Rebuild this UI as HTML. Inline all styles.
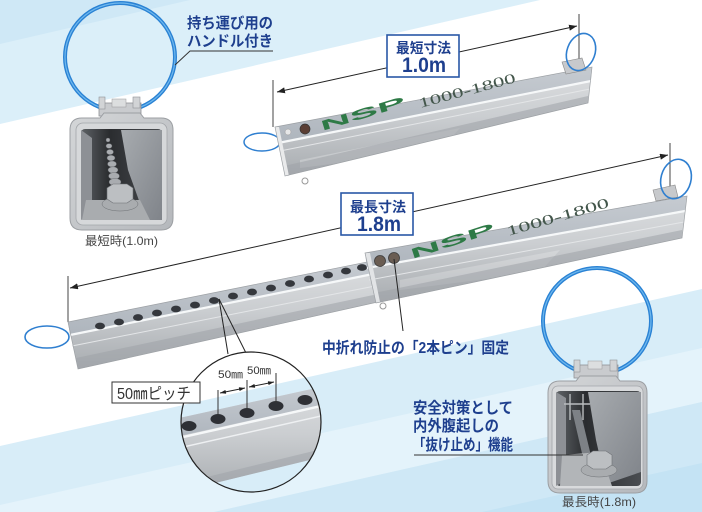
<!DOCTYPE html>
<html><head><meta charset="utf-8"><style>
html,body{margin:0;padding:0;background:#fff;width:702px;height:512px;overflow:hidden;}
svg{display:block;}
.jp{font-family:"Liberation Sans","Noto Sans CJK JP",sans-serif;}
.nv{fill:#1e3f8e;font-weight:bold;}
</style></head><body>
<svg width="702" height="512" viewBox="0 0 702 512" xmlns="http://www.w3.org/2000/svg">
<defs>
 <linearGradient id="face" x1="0" y1="0" x2="0" y2="1">
  <stop offset="0" stop-color="#dcdee0"/>
  <stop offset="0.45" stop-color="#cbced1"/>
  <stop offset="1" stop-color="#a8acb0"/>
 </linearGradient>
 <linearGradient id="topg" x1="0" y1="0" x2="0" y2="1">
  <stop offset="0" stop-color="#c6cbd1"/>
  <stop offset="1" stop-color="#aeb5bd"/>
 </linearGradient>
 <linearGradient id="cav" x1="0" y1="0" x2="1" y2="0">
  <stop offset="0" stop-color="#5e6266"/>
  <stop offset="0.35" stop-color="#2a2c2f"/>
  <stop offset="1" stop-color="#4a4d51"/>
 </linearGradient>
 <linearGradient id="plane" x1="0" y1="0" x2="1" y2="1">
  <stop offset="0" stop-color="#a7abaf"/>
  <stop offset="1" stop-color="#80848a"/>
 </linearGradient>
 <linearGradient id="cap" x1="0" y1="0" x2="1" y2="1">
  <stop offset="0" stop-color="#d4d6d8"/>
  <stop offset="1" stop-color="#b5b8bc"/>
 </linearGradient>
 <clipPath id="mag"><circle cx="251" cy="422" r="70"/></clipPath>
 <marker id="ah" viewBox="0 0 8 6" refX="8" refY="3" markerWidth="8" markerHeight="6" markerUnits="userSpaceOnUse" orient="auto-start-reverse">
  <path d="M0,0 L8,3 L0,6 z" fill="#222"/>
 </marker>
 <marker id="sh" viewBox="0 0 6 4" refX="6" refY="2" markerWidth="6" markerHeight="4" markerUnits="userSpaceOnUse" orient="auto-start-reverse">
  <path d="M0,0 L6,2 L0,4 z" fill="#222"/>
 </marker>
</defs>

<!-- background bands -->
<rect width="702" height="512" fill="#ffffff"/>
<polygon points="0,0 540,0 0,124" fill="#dbeff9"/>
<polygon points="0,0 190,0 0,44" fill="#cfe8f6"/>
<polygon points="0,446 702,289 702,512 0,512" fill="#d8edf8"/>
<polygon points="0,505 702,348 702,402 214,512 0,512" fill="#e4f3fb"/>
<polygon points="214,512 702,402 702,512" fill="#cfe8f6"/>
<polygon points="482,512 702,463 702,512" fill="#c4e3f4"/>

<!-- ===== Top-left end cap (1.0m) ===== -->
<ellipse cx="120" cy="57" rx="55" ry="54" fill="none" stroke="#2a82d4" stroke-width="4"/>
<ellipse cx="120" cy="57" rx="55" ry="54" fill="none" stroke="#6fb8ee" stroke-width="1.2"/>
<path d="M175,65 L190,51 L273,51" fill="none" stroke="#333" stroke-width="1"/>
<rect x="99" y="103" width="42" height="13" fill="#c9cbce" stroke="#8f9296" stroke-width="0.8"/>
<rect x="99" y="97" width="6" height="12" fill="#d2d4d6" stroke="#8f9296" stroke-width="0.6"/>
<rect x="133" y="97" width="7" height="11" fill="#d2d4d6" stroke="#8f9296" stroke-width="0.6"/>
<rect x="112" y="99" width="14" height="8" fill="#dcdedf" stroke="#999" stroke-width="0.5"/>
<path d="M82,118 L100,118 L104,113 L140,113 L144,118 L161,118 Q173,118 173,130 L173,218 Q173,230 161,230 L82,230 Q70,230 70,218 L70,130 Q70,118 82,118 Z" fill="url(#cap)" stroke="#9c9fa3" stroke-width="1"/>
<rect x="76" y="123" width="91" height="102" rx="7" fill="#d6d8da" stroke="#a3a6aa" stroke-width="0.8"/>
<rect x="81" y="129" width="81" height="91" rx="4" fill="url(#cav)"/>
<polygon points="81,130 92,138 92,214 81,220" fill="#8d9095"/>
<polygon points="121,130 162,130 162,220 146,220 128,170" fill="url(#plane)"/>
<polygon points="86,200 140,200 150,220 82,220" fill="#a9acaf"/>
<g fill="#a9acb0" stroke="#5e6165" stroke-width="0.4">
<ellipse cx="108" cy="140" rx="2" ry="2"/><ellipse cx="109" cy="146" rx="3" ry="2.4"/>
<ellipse cx="110" cy="152" rx="3.5" ry="2.6"/><ellipse cx="111" cy="158" rx="4" ry="2.8"/>
<ellipse cx="112" cy="164" rx="4.5" ry="3"/><ellipse cx="113" cy="170" rx="5" ry="3.2"/>
<ellipse cx="114" cy="176" rx="5.5" ry="3.4"/><ellipse cx="115" cy="182" rx="6" ry="3.6"/>
</g>
<ellipse cx="120" cy="204" rx="18" ry="7" fill="#a9acaf" stroke="#6d7074" stroke-width="0.5"/>
<polygon points="107,188 113,184 127,184 133,188 133,199 127,203 113,203 107,199" fill="#bcbfc2" stroke="#6d7074" stroke-width="0.6"/>
<text class="jp" x="85" y="245" font-size="12" fill="#444" textLength="73" lengthAdjust="spacingAndGlyphs">最短時(1.0m)</text>
<text class="jp nv" x="187" y="28" font-size="15" textLength="86" lengthAdjust="spacingAndGlyphs">持ち運び用の</text>
<text class="jp nv" x="187" y="46" font-size="15" textLength="86" lengthAdjust="spacingAndGlyphs">ハンドル付き</text>

<!-- ===== Short bar (1.0m) ===== -->
<line x1="273" y1="80" x2="273" y2="127" stroke="#444" stroke-width="1"/>
<line x1="579" y1="14" x2="579" y2="60" stroke="#444" stroke-width="1"/>
<line x1="277" y1="92" x2="577" y2="26" stroke="#222" stroke-width="1" marker-start="url(#ah)" marker-end="url(#ah)"/>
<rect x="387" y="35" width="72" height="42" fill="#fff" stroke="#2a58a6" stroke-width="1.6"/>
<text class="jp nv" x="396" y="53" font-size="14" textLength="55" lengthAdjust="spacingAndGlyphs">最短寸法</text>
<text class="jp nv" x="402" y="72" font-size="21" textLength="44" lengthAdjust="spacingAndGlyphs">1.0m</text>

<ellipse cx="262" cy="142" rx="18" ry="9" fill="none" stroke="#2f7fd0" stroke-width="1.5"/>
<polygon points="275,127 592,67 588,103 285,176" fill="url(#face)"/>
<polygon points="275,127 592,67 591,80 278,143" fill="url(#topg)"/>
<line x1="278" y1="143" x2="591" y2="81" stroke="#f6f8f9" stroke-width="2.2"/>
<line x1="280" y1="151" x2="590" y2="89" stroke="#e4e6e8" stroke-width="1"/>
<polygon points="300,160 460,128 440,150 300,168" fill="#ffffff" opacity="0.25"/>
<polygon points="284,166 588,96 588,103 285,176" fill="#9ea2a7" opacity="0.55"/>
<polygon points="275,127 279,127 289,176 285,176" fill="#e9eaeb"/>
<polygon points="275,127 592,67 588,103 285,176" fill="none" stroke="#9da1a5" stroke-width="0.7"/>
<circle cx="288" cy="132" r="3" fill="#e6e7e8" stroke="#999" stroke-width="0.5"/>
<circle cx="305" cy="129" r="5" fill="#5a3e34" stroke="#333" stroke-width="0.7"/>
<circle cx="305" cy="181" r="3" fill="none" stroke="#999" stroke-width="1"/>
<text x="0" y="0" transform="translate(322,131) rotate(-17)" font-family="Liberation Sans, sans-serif" font-weight="bold" font-size="14" fill="#2e7a46" textLength="88" lengthAdjust="spacingAndGlyphs">NSP</text>
<text x="0" y="0" transform="translate(420,108) rotate(-15)" font-family="Liberation Serif, serif" font-size="14" fill="#43564b" textLength="100" lengthAdjust="spacingAndGlyphs">1000-1800</text>
<polygon points="562,62 582,58 586,70 566,74" fill="#c7c9cc" stroke="#888" stroke-width="0.6"/>
<ellipse cx="581" cy="52" rx="14" ry="19" transform="rotate(20 581 52)" fill="none" stroke="#2f7fd0" stroke-width="1.6"/>

<!-- ===== Long bar (1.8m) ===== -->
<line x1="68" y1="276" x2="68" y2="322" stroke="#444" stroke-width="1"/>
<line x1="670" y1="143" x2="670" y2="187" stroke="#444" stroke-width="1"/>
<line x1="70" y1="288" x2="668" y2="155" stroke="#222" stroke-width="1" marker-start="url(#ah)" marker-end="url(#ah)"/>
<rect x="341" y="193" width="72" height="42" fill="#fff" stroke="#2a58a6" stroke-width="1.6"/>
<text class="jp nv" x="350" y="212" font-size="14" textLength="56" lengthAdjust="spacingAndGlyphs">最長寸法</text>
<text class="jp nv" x="357" y="231" font-size="21" textLength="44" lengthAdjust="spacingAndGlyphs">1.8m</text>

<ellipse cx="47" cy="337" rx="22" ry="11" fill="none" stroke="#2f7fd0" stroke-width="1.6"/>
<!-- inner tube -->
<polygon points="68,322 372,261 378,302 78,369" fill="url(#face)"/>
<polygon points="68,322 372,261 373,274 70,335" fill="url(#topg)"/>
<line x1="70" y1="335" x2="373" y2="274" stroke="#f6f8f9" stroke-width="2.2"/>
<line x1="72" y1="346" x2="375" y2="286" stroke="#e4e6e8" stroke-width="1"/>
<polygon points="76,358 378,294 378,302 78,369" fill="#9ea2a7" opacity="0.55"/>
<polygon points="68,322 372,261 378,302 78,369" fill="none" stroke="#9da1a5" stroke-width="0.7"/>
<g fill="#35383d">
<ellipse cx="100" cy="326" rx="5" ry="3.4"/><ellipse cx="119" cy="322" rx="5" ry="3.4"/>
<ellipse cx="138" cy="317.5" rx="5" ry="3.4"/><ellipse cx="157" cy="313" rx="5" ry="3.4"/>
<ellipse cx="176" cy="309" rx="5" ry="3.4"/><ellipse cx="195" cy="305" rx="5" ry="3.4"/>
<ellipse cx="214" cy="300.5" rx="5" ry="3.4"/><ellipse cx="233" cy="296" rx="5" ry="3.4"/>
<ellipse cx="252" cy="292" rx="5" ry="3.4"/><ellipse cx="271" cy="288" rx="5" ry="3.4"/>
<ellipse cx="290" cy="283.5" rx="5" ry="3.4"/><ellipse cx="309" cy="279" rx="5" ry="3.4"/>
<ellipse cx="328" cy="275" rx="5" ry="3.4"/><ellipse cx="346" cy="271" rx="5" ry="3.4"/>
<ellipse cx="362" cy="267.5" rx="5" ry="3.4"/>
</g>
<!-- outer tube -->
<polygon points="365,253 687,196 682,238 376,303" fill="url(#face)"/>
<polygon points="365,253 687,196 685,210 367,268" fill="url(#topg)"/>
<line x1="367" y1="268" x2="685" y2="211" stroke="#f6f8f9" stroke-width="2.2"/>
<line x1="369" y1="280" x2="684" y2="222" stroke="#e4e6e8" stroke-width="1"/>
<polygon points="400,280 560,250 540,272 400,290" fill="#ffffff" opacity="0.22"/>
<polygon points="374,293 682,230 682,238 376,303" fill="#9ea2a7" opacity="0.55"/>
<polygon points="365,253 370,253 380,302 376,303" fill="#e2e4e6"/>
<polygon points="365,253 687,196 682,238 376,303" fill="none" stroke="#9da1a5" stroke-width="0.7"/>
<circle cx="380" cy="261" r="5.5" fill="#6a5d53" stroke="#3c3c3c" stroke-width="0.8"/>
<circle cx="394" cy="258" r="5.5" fill="#6a5d53" stroke="#3c3c3c" stroke-width="0.8"/>
<circle cx="383" cy="306" r="3" fill="none" stroke="#999" stroke-width="1"/>
<text x="0" y="0" transform="translate(412,259) rotate(-18)" font-family="Liberation Sans, sans-serif" font-weight="bold" font-size="14" fill="#2e7a46" textLength="88" lengthAdjust="spacingAndGlyphs">NSP</text>
<text x="0" y="0" transform="translate(508,236) rotate(-16)" font-family="Liberation Serif, serif" font-size="14" fill="#43564b" textLength="106" lengthAdjust="spacingAndGlyphs">1000-1800</text>
<polygon points="653,190 675,185 678,197 656,201" fill="#c7c9cc" stroke="#888" stroke-width="0.6"/>
<ellipse cx="676" cy="179" rx="15" ry="20" transform="rotate(15 676 179)" fill="none" stroke="#2f7fd0" stroke-width="1.6"/>

<!-- pin callout -->
<line x1="394" y1="259" x2="403" y2="331" stroke="#222" stroke-width="1"/>
<text class="jp nv" x="322" y="353" font-size="15.5" textLength="187" lengthAdjust="spacingAndGlyphs">中折れ防止の「2本ピン」固定</text>

<!-- ===== Magnifier ===== -->
<line x1="219" y1="299" x2="228" y2="354" stroke="#222" stroke-width="1"/>
<line x1="219" y1="299" x2="246" y2="353" stroke="#222" stroke-width="1"/>
<g clip-path="url(#mag)">
 <rect x="178" y="348" width="148" height="146" fill="#fff"/>
 <polygon points="170,408 330,372 330,494 170,494" fill="#d8edf8"/>
 <polygon points="170,420 330,385 330,455 170,494" fill="url(#face)"/>
 <polygon points="170,420 330,385 330,403 170,438" fill="url(#topg)"/>
 <line x1="170" y1="440" x2="330" y2="404" stroke="#f6f8f9" stroke-width="2.5"/>
 <line x1="170" y1="450" x2="330" y2="414" stroke="#eef0f2" stroke-width="1.5"/>
 <polygon points="170,486 330,447 330,455 170,494" fill="#9ea2a7" opacity="0.5"/>
 <g fill="#2e3035">
  <ellipse cx="189" cy="426" rx="7.5" ry="5"/><ellipse cx="218" cy="419" rx="7.5" ry="5"/>
  <ellipse cx="247" cy="413" rx="7.5" ry="5"/><ellipse cx="276" cy="406" rx="7.5" ry="5"/>
  <ellipse cx="305" cy="400" rx="7.5" ry="5"/>
 </g>
</g>
<circle cx="251" cy="422" r="70" fill="none" stroke="#222" stroke-width="1.2"/>
<line x1="218" y1="390" x2="218" y2="416" stroke="#333" stroke-width="1"/>
<line x1="247" y1="380" x2="247" y2="410" stroke="#333" stroke-width="1"/>
<line x1="276" y1="373" x2="276" y2="403" stroke="#333" stroke-width="1"/>
<line x1="220" y1="393" x2="245" y2="388" stroke="#222" stroke-width="0.9" marker-start="url(#sh)" marker-end="url(#sh)"/>
<line x1="249" y1="387" x2="274" y2="382" stroke="#222" stroke-width="0.9" marker-start="url(#sh)" marker-end="url(#sh)"/>
<text class="jp" x="218" y="378" font-size="11" fill="#333" textLength="25" lengthAdjust="spacingAndGlyphs">50㎜</text>
<text class="jp" x="247" y="374" font-size="11" fill="#333" textLength="24" lengthAdjust="spacingAndGlyphs">50㎜</text>
<rect x="112" y="382" width="88" height="21" fill="#fff" stroke="#333" stroke-width="1"/>
<text class="jp" x="117" y="399" font-size="16" fill="#333" textLength="74" lengthAdjust="spacingAndGlyphs">50㎜ピッチ</text>

<!-- ===== Bottom-right end cap (1.8m) ===== -->
<ellipse cx="597" cy="321" rx="54" ry="53" fill="none" stroke="#2a82d4" stroke-width="4"/>
<ellipse cx="597" cy="321" rx="54" ry="53" fill="none" stroke="#6fb8ee" stroke-width="1.2"/>
<rect x="574" y="365" width="44" height="13" fill="#c9cbce" stroke="#8f9296" stroke-width="0.8"/>
<rect x="574" y="360" width="6" height="12" fill="#d2d4d6" stroke="#8f9296" stroke-width="0.6"/>
<rect x="610" y="360" width="7" height="11" fill="#d2d4d6" stroke="#8f9296" stroke-width="0.6"/>
<rect x="588" y="361" width="14" height="8" fill="#dcdedf" stroke="#999" stroke-width="0.5"/>
<path d="M560,381 L576,381 L580,376 L616,376 L620,381 L636,381 Q647,381 647,393 L647,481 Q647,493 635,493 L560,493 Q548,493 548,481 L548,393 Q548,381 560,381 Z" fill="url(#cap)" stroke="#9c9fa3" stroke-width="1"/>
<rect x="552" y="386" width="91" height="103" rx="6" fill="#d8dadc" stroke="#a3a6aa" stroke-width="0.8"/>
<rect x="556" y="391" width="85" height="95" rx="4" fill="url(#cav)"/>
<polygon points="556,392 566,398 566,480 556,486" fill="#8d9095"/>
<polygon points="588,392 641,392 641,472 606,484 596,440" fill="url(#plane)"/>
<polygon points="572,410 580,410 592,460 584,462" fill="#7d8186"/>
<polygon points="562,455 600,452 612,486 560,486" fill="#b2b5b8"/>
<g stroke="#b9bcbf" stroke-width="1.4">
<line x1="570" y1="394" x2="570" y2="420"/><line x1="583" y1="394" x2="583" y2="420"/>
<line x1="564" y1="404" x2="590" y2="404"/>
</g>
<ellipse cx="599" cy="470" rx="18" ry="7" fill="#a9acaf" stroke="#6d7074" stroke-width="0.5"/>
<polygon points="587,455 593,451 606,451 612,455 612,465 606,469 593,469 587,465" fill="#bcbfc2" stroke="#6d7074" stroke-width="0.6"/>
<line x1="414" y1="455" x2="583" y2="455" stroke="#333" stroke-width="1"/>
<text class="jp nv" x="413" y="413" font-size="15.5" textLength="100" lengthAdjust="spacingAndGlyphs">安全対策として</text>
<text class="jp nv" x="413" y="431" font-size="15.5" textLength="86" lengthAdjust="spacingAndGlyphs">内外腹起しの</text>
<text class="jp nv" x="413" y="450" font-size="15.5" textLength="100" lengthAdjust="spacingAndGlyphs">「抜け止め」機能</text>
<text class="jp" x="562" y="506" font-size="12" fill="#444" textLength="74" lengthAdjust="spacingAndGlyphs">最長時(1.8m)</text>
</svg>
</body></html>
